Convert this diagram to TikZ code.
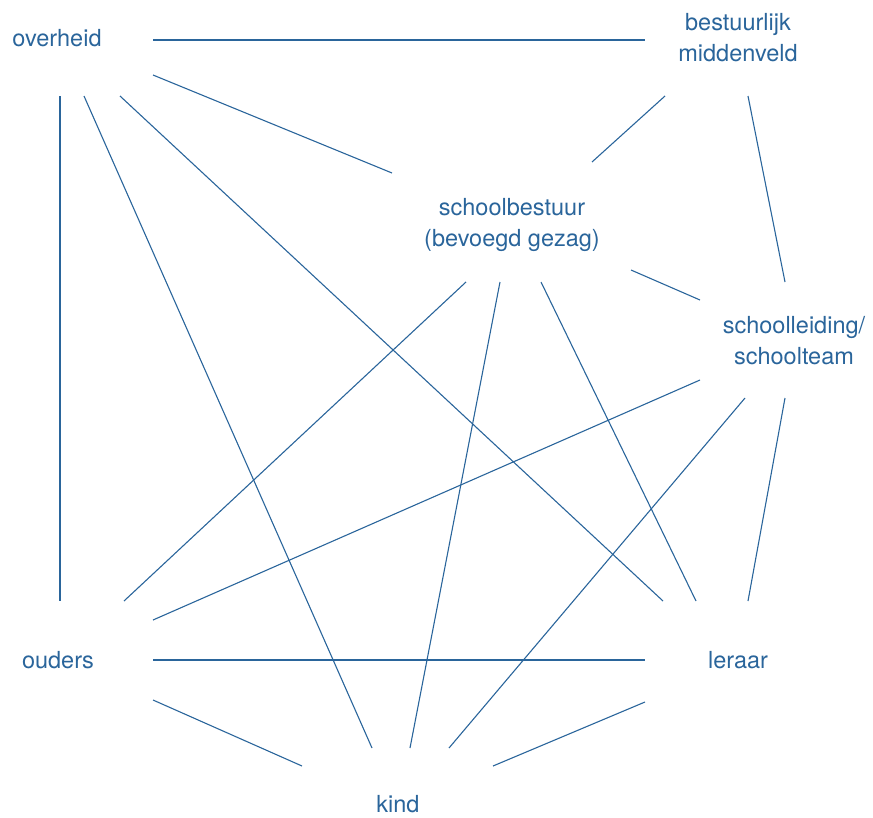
\documentclass[tikz,border=0pt]{standalone}
\usepackage{fontspec}
\setmainfont{TeX Gyre Heros}
\definecolor{ink}{HTML}{2A659B}
\begin{document}
\begin{tikzpicture}[x=1pt,y=-1pt,
  lbl/.style={text=ink,align=center,inner sep=0pt,font=\fontsize{23.5}{31}\selectfont},
  link/.style={draw=ink,line width=1.1pt}]
\useasboundingbox (0,0) rectangle (873,817);
% labels
\node[lbl] (ov) at (57,38) {overheid};
\node[lbl] (bm) at (738,38) {bestuurlijk\\middenveld};
\node[lbl] (sb) at (512,225) {schoolbestuur\\(bevoegd gezag)};
\node[lbl] (sl) at (794,341) {schoolleiding/\\schoolteam};
\node[lbl] (ou) at (58,660) {ouders};
\node[lbl] (le) at (738,660) {leraar};
\node[lbl] (ki) at (398,804) {kind};
% line end points
\coordinate (ov-bm) at (153,40);  \coordinate (bm-ov) at (645,40);
\coordinate (ov-sb) at (153,75);  \coordinate (sb-ov) at (392,173);
\coordinate (ov-le) at (120,96);  \coordinate (le-ov) at (663,601);
\coordinate (ov-ki) at (84,96);   \coordinate (ki-ov) at (372,748);
\coordinate (ov-ou) at (60,96);   \coordinate (ou-ov) at (60,601);
\coordinate (bm-sb) at (665,96);  \coordinate (sb-bm) at (592,162);
\coordinate (bm-sl) at (748,96);  \coordinate (sl-bm) at (785,282);
\coordinate (sb-sl) at (631,270); \coordinate (sl-sb) at (700,300);
\coordinate (sb-ou) at (466,282); \coordinate (ou-sb) at (124,601);
\coordinate (sb-ki) at (500,282); \coordinate (ki-sb) at (410,748);
\coordinate (sb-le) at (541,282); \coordinate (le-sb) at (696,601);
\coordinate (sl-ou) at (700,380); \coordinate (ou-sl) at (153,620);
\coordinate (sl-ki) at (745,398); \coordinate (ki-sl) at (449,748);
\coordinate (sl-le) at (785,398); \coordinate (le-sl) at (748,601);
\coordinate (ou-le) at (153,660); \coordinate (le-ou) at (645,660);
\coordinate (ou-ki) at (153,700); \coordinate (ki-ou) at (302,766);
\coordinate (le-ki) at (645,702); \coordinate (ki-le) at (493,766);
% connectors
\draw[link] (ov-bm) -- (bm-ov);
\draw[link] (ov-sb) -- (sb-ov);
\draw[link] (ov-le) -- (le-ov);
\draw[link] (ov-ki) -- (ki-ov);
\draw[link] (ov-ou) -- (ou-ov);
\draw[link] (bm-sb) -- (sb-bm);
\draw[link] (bm-sl) -- (sl-bm);
\draw[link] (sb-sl) -- (sl-sb);
\draw[link] (sb-ou) -- (ou-sb);
\draw[link] (sb-ki) -- (ki-sb);
\draw[link] (sb-le) -- (le-sb);
\draw[link] (sl-ou) -- (ou-sl);
\draw[link] (sl-ki) -- (ki-sl);
\draw[link] (sl-le) -- (le-sl);
\draw[link] (ou-le) -- (le-ou);
\draw[link] (ou-ki) -- (ki-ou);
\draw[link] (le-ki) -- (ki-le);
\end{tikzpicture}
\end{document}
